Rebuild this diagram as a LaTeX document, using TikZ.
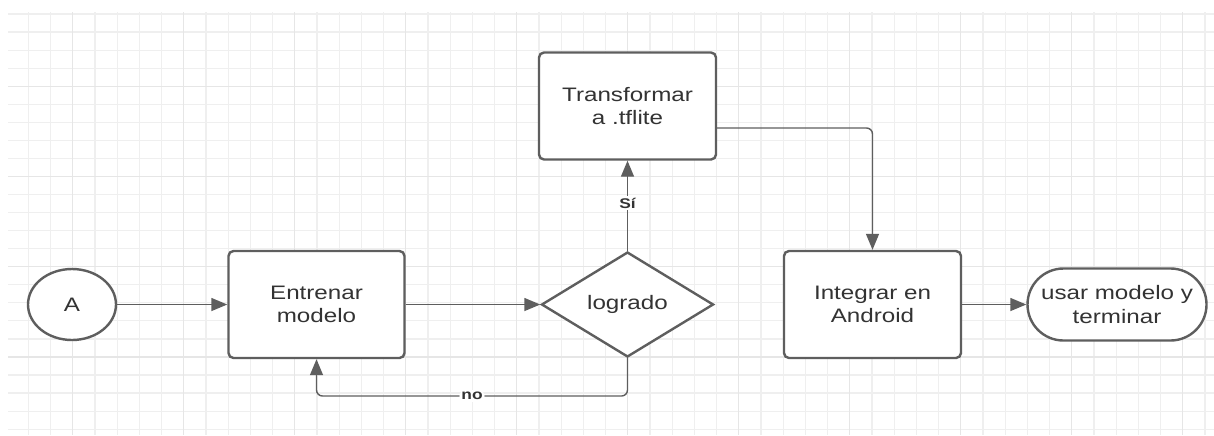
\documentclass[tikz,border=0pt]{standalone}
\usepackage{fontspec}
\newfontfamily\lucid[FakeStretch=1.24]{Liberation Sans}
\usetikzlibrary{arrows.meta,shapes.geometric}

\definecolor{edge}{HTML}{5E5E5E}
\definecolor{ink}{HTML}{333333}
\definecolor{minorgrid}{HTML}{EFEFEF}
\definecolor{majorgrid}{HTML}{E6E6E6}

\tikzset{
	shapeline/.style={draw=edge, line width=1.2pt, fill=white, text=ink,
		font=\lucid\fontsize{9.75}{11.7}\selectfont, align=center, inner sep=0pt},
	box/.style={shapeline, rectangle, rounded corners=2.5pt},
	flow/.style={draw=edge, line width=0.7pt, -{Triangle[length=8pt,width=6.5pt]}},
	lbl/.style={fill=white, text=ink, font=\lucid\bfseries\fontsize{7}{8}\selectfont, inner sep=1pt},
}

\begin{document}
\begin{tikzpicture}[x=0.5pt, y=-0.5pt]
	\fill[white] (0,0) rectangle (1214,435);
	\useasboundingbox (0,0) rectangle (1214,435);
	
	% grid
	\foreach \i in {1,...,54}
	\draw[minorgrid, line width=0.6pt] ({6.1+22.2*\i},12) -- ({6.1+22.2*\i},435);
	\foreach \j in {0,1,2,3,5,6,7,8,10,11,12,13,15,16,17,18,20,21,22,23}
	\draw[minorgrid, line width=0.6pt] (8,{14+18.05*\j}) -- (1214,{14+18.05*\j});
	\foreach \i in {3,8,...,53}
	\draw[majorgrid, line width=0.6pt] ({6.1+22.2*\i},12) -- ({6.1+22.2*\i},435);
	\foreach \j in {4,9,...,19}
	\draw[majorgrid, line width=0.6pt] (8,{14+18.05*\j}) -- (1214,{14+18.05*\j});
	
	% nodes
	\node[shapeline, ellipse, minimum width=44pt, minimum height=35.5pt] (start) at (72,304.5) {A};
	\node[box, minimum width=88pt, minimum height=53.5pt] (train) at (316.5,304.5) {Entrenar\\modelo};
	\node[shapeline, diamond, aspect=1.64, minimum width=86pt, minimum height=52.5pt] (done) at (627.5,304.5) {logrado};
	\node[box, minimum width=88.5pt, minimum height=53.5pt] (conv) at (627.5,106) {Transformar\\a .tflite};
	\node[box, minimum width=88.5pt, minimum height=53.5pt] (integ) at (872.5,304.5) {Integrar en\\Android};
	\node[shapeline, rectangle, rounded corners=18pt, minimum width=89.5pt, minimum height=36pt] (finish) at (1117,304.5) {usar modelo y\\terminar};
	\coordinate (back) at (627.5,396);
	
	% connectors
	\draw[flow] (start) -- (train);
	\draw[flow] (train) -- (done);
	\draw[flow] (done.north) -- node[lbl, pos=0.53] {Sí} (conv.south);
	\draw[flow, rounded corners=3pt] (done.south) -- (back) -| node[lbl, pos=0.25] {no} (train.south);
	\draw[flow, rounded corners=3pt] ([yshift=-11pt]conv.east) -| (integ.north);
	\draw[flow] (integ) -- (finish);
\end{tikzpicture}
\end{document}
